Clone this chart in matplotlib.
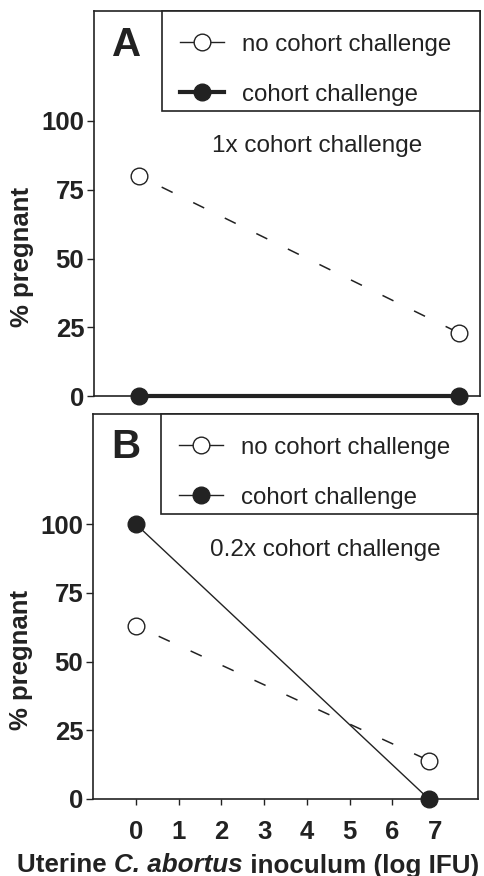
import matplotlib
matplotlib.use("Agg")
import matplotlib.pyplot as plt
from matplotlib.lines import Line2D
from matplotlib.patches import Rectangle

plt.rcParams['font.family'] = ['Liberation Sans', 'DejaVu Sans']

# data
x_a = [0.05, 7.5]
a_no_cohort = [80, 23]
a_cohort = [0, 0]
x_b = [0.0, 6.85]
b_no_cohort = [63, 14]
b_cohort = [100, 0]
x_ticks = [0, 1, 2, 3, 4, 5, 6, 7]
y_ticks = [0, 25, 50, 75, 100]

ink = '#222222'
dash = (6.5, (8, 15))

fig = plt.figure(figsize=(4.85, 8.76), dpi=100)
ax_a = fig.add_axes([94/485, (876-396)/876, 386/485, 385/876])
ax_b = fig.add_axes([93/485, (876-799)/876, 385/485, 385/876])


def style_axes(ax):
    ax.set_xlim(-1, 8)
    ax.set_ylim(0, 140)
    ax.set_yticks(y_ticks)
    for s in ax.spines.values():
        s.set_color(ink)
        s.set_linewidth(1.2)
    ax.tick_params(axis='y', direction='out', length=5, width=1, color=ink,
                   pad=2, labelsize=18.5, labelcolor=ink)
    for lbl in ax.get_yticklabels():
        lbl.set_fontweight('bold')
    ax.text(-0.187, 0.36, '% pregnant', transform=ax.transAxes, rotation=90,
            ha='center', va='center', fontsize=18.5, fontweight='bold', color=ink)


def add_legend(ax, cohort_lw):
    # box hugging the top right corner of the axes
    ax.add_patch(Rectangle((0.176, 0.74), 0.824, 0.26, transform=ax.transAxes,
                           facecolor='white', edgecolor=ink, lw=1.2,
                           clip_on=False, zorder=4.5))
    handles = [
        Line2D([], [], color=ink, lw=1, marker='o', ms=12, mfc='white',
               mec=ink, mew=1),
        Line2D([], [], color=ink, lw=cohort_lw, marker='o', ms=12, mfc=ink,
               mec=ink),
    ]
    leg = ax.legend(handles, ['no cohort challenge', 'cohort challenge'],
                    loc='upper left', bbox_to_anchor=(0.223, 0.941),
                    borderaxespad=0, borderpad=0, frameon=False,
                    fontsize=17.3, handlelength=1.83, handletextpad=0.75,
                    labelspacing=1.16)
    leg.set_zorder(5)
    for t in leg.get_texts():
        t.set_color(ink)


# panel A
style_axes(ax_a)
ax_a.set_xticks([])
ax_a.plot(x_a, a_no_cohort, color=ink, lw=1.1, linestyle=dash, marker='o', ms=12,
          mfc='white', mec=ink, mew=1, clip_on=False, zorder=3)
ax_a.plot(x_a, a_cohort, color=ink, lw=3, marker='o', ms=12, mfc=ink, mec=ink,
          clip_on=False, zorder=4)
add_legend(ax_a, 3)
ax_a.text(0.047, 0.912, 'A', transform=ax_a.transAxes, fontsize=29,
          fontweight='bold', color=ink, va='center', ha='left')
ax_a.text(4.2, 91, '1x cohort challenge', fontsize=17.5, color=ink,
          ha='center', va='center')

# panel B
style_axes(ax_b)
ax_b.set_xticks(x_ticks)
ax_b.tick_params(axis='x', direction='out', length=4, width=1, color=ink,
                 pad=11, labelsize=18.5, labelcolor=ink)
for lbl in ax_b.get_xticklabels():
    lbl.set_fontweight('bold')
ax_b.plot(x_b, b_no_cohort, color=ink, lw=1.1, linestyle=dash, marker='o', ms=12,
          mfc='white', mec=ink, mew=1, clip_on=False, zorder=3)
ax_b.plot(x_b, b_cohort, color=ink, lw=1, marker='o', ms=12, mfc=ink, mec=ink,
          clip_on=False, zorder=4)
add_legend(ax_b, 1)
ax_b.text(0.047, 0.914, 'B', transform=ax_b.transAxes, fontsize=29,
          fontweight='bold', color=ink, va='center', ha='left')
ax_b.text(4.43, 90.5, '0.2x cohort challenge', fontsize=17.5, color=ink,
          ha='center', va='center')

# x label with italic species name
y_lab = 3.5 / 876
t1 = fig.text(17/485, y_lab, 'Uterine ', fontsize=18.7, fontweight='bold',
              color=ink, ha='left', va='baseline')
t2 = fig.text(0, y_lab, 'C. abortus', fontsize=18.7, fontweight='bold',
              style='italic', color=ink, ha='left', va='baseline')
t3 = fig.text(0, y_lab, ' inoculum (log IFU)', fontsize=18.7, fontweight='bold',
              color=ink, ha='left', va='baseline')
fig.canvas.draw()
r = fig.canvas.get_renderer()
bb1 = t1.get_window_extent(r)
t2.set_position((bb1.x1 / fig.bbox.width, y_lab))
bb2 = t2.get_window_extent(r)
t3.set_position((bb2.x1 / fig.bbox.width, y_lab))

fig.savefig('out.png', dpi=100)
